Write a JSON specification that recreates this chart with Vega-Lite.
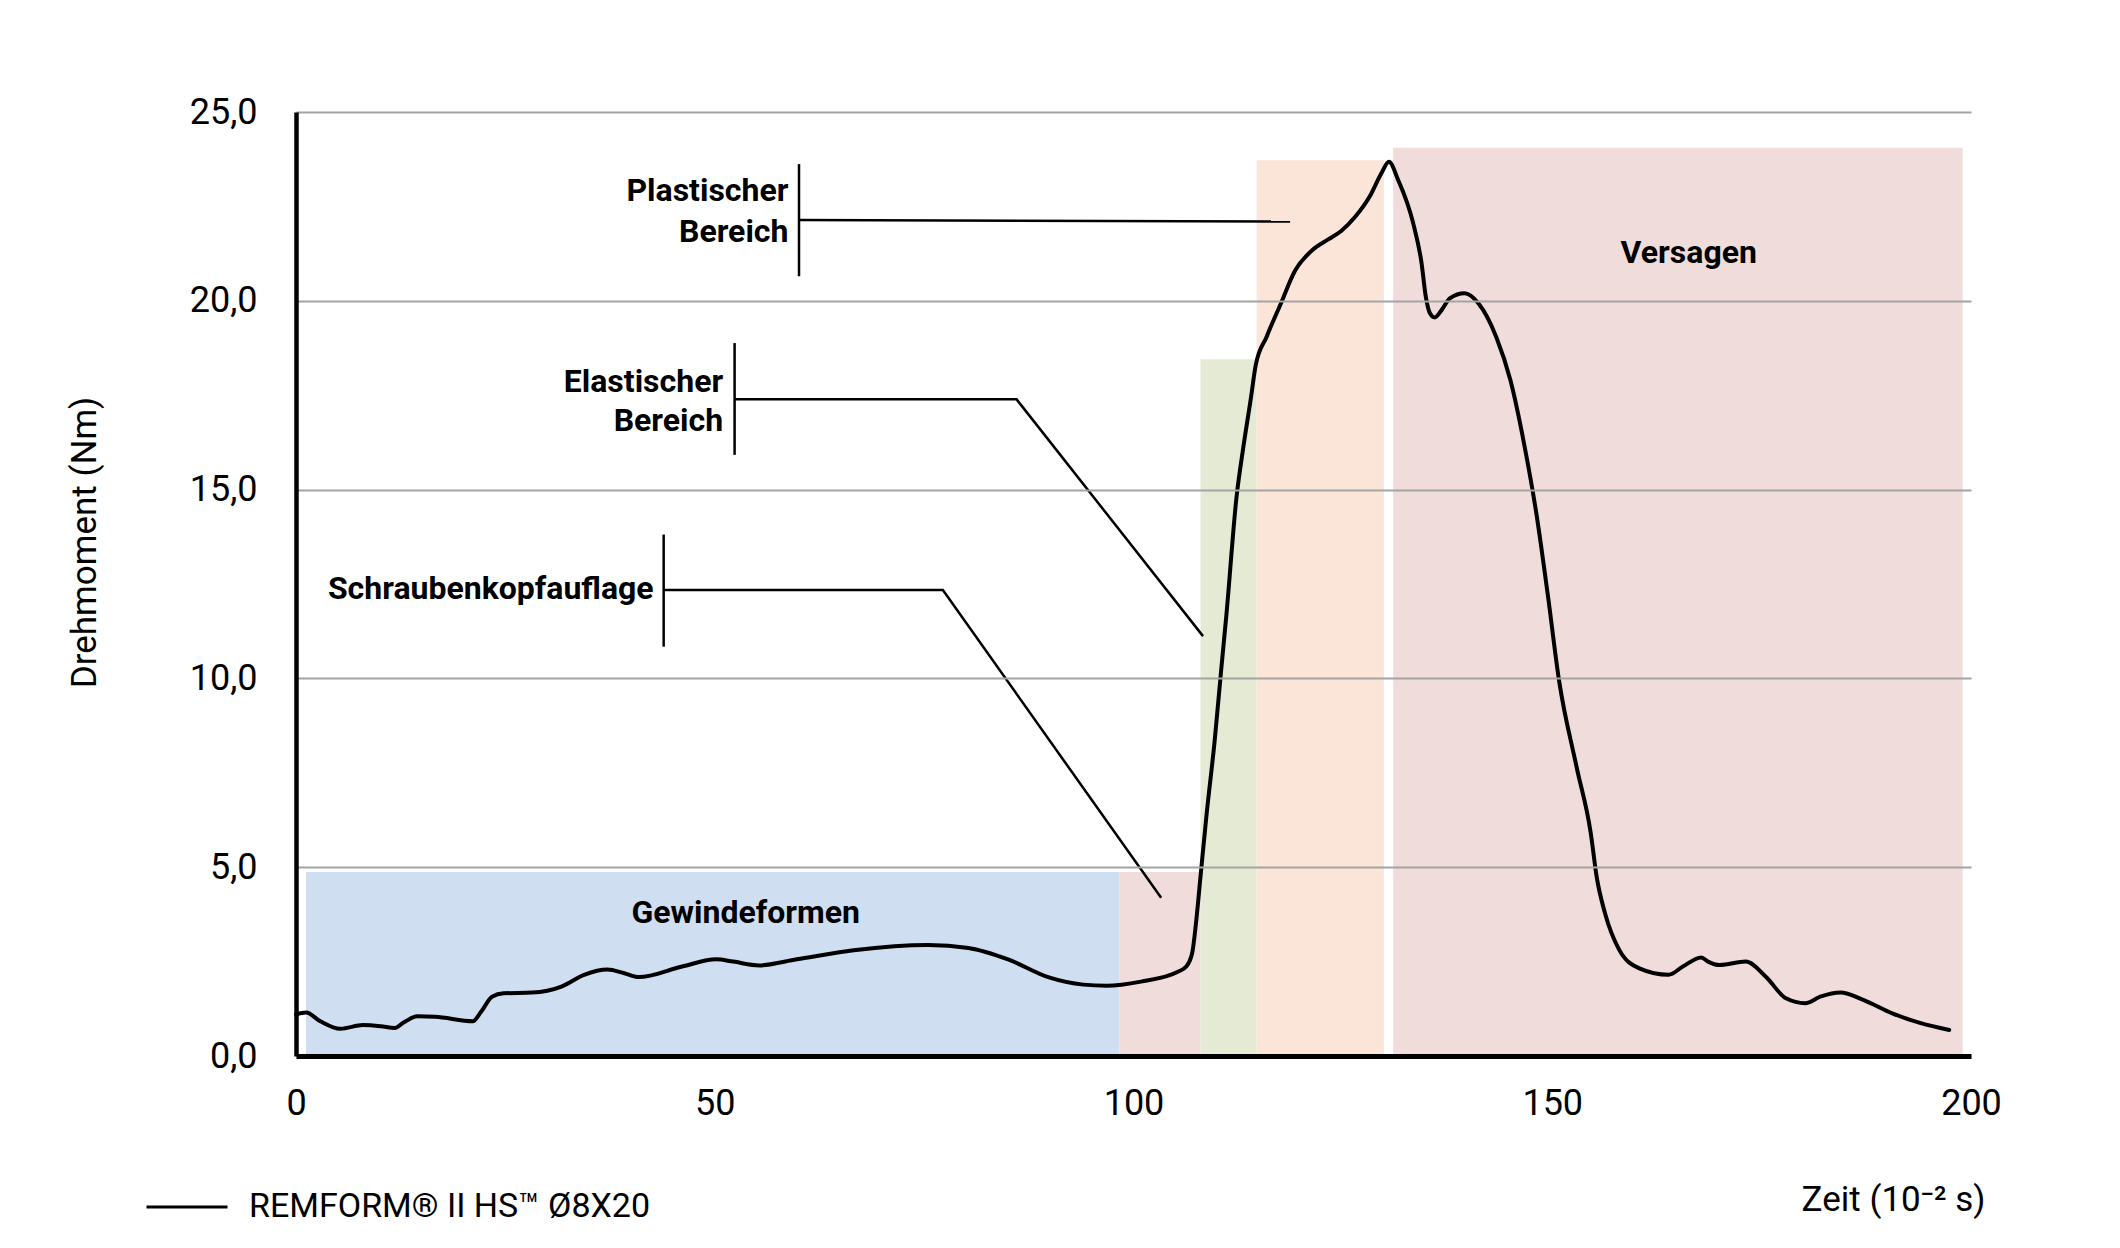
{
  "$schema": "https://vega.github.io/schema/vega-lite/v6.json",
  "width": 1675,
  "height": 944,
  "autosize": {"type": "none"},
  "padding": {"left": 296, "top": 112, "right": 149, "bottom": 192},
  "background": "white",
  "config": {"view": {"stroke": null}, "font": "Roboto"},
  "datasets": {
    "zones": [
      {"zone": "Gewindeformen", "start": 1.2, "end": 98.3, "top": 4.87},
      {"zone": "Schraubenkopfauflage", "start": 98.3, "end": 108.0, "top": 4.87},
      {"zone": "Elastischer Bereich", "start": 108.0, "end": 114.7, "top": 18.45},
      {"zone": "Plastischer Bereich", "start": 114.7, "end": 129.9, "top": 23.72},
      {"zone": "Versagen", "start": 131.0, "end": 199.0, "top": 24.05}
    ],
    "curve": [
      {"t": 0, "torque": 1.10}, {"t": 1.2, "torque": 1.15}, {"t": 2.9, "torque": 0.92}, {"t": 5.3, "torque": 0.72},
      {"t": 8.0, "torque": 0.82}, {"t": 10.1, "torque": 0.79}, {"t": 11.8, "torque": 0.74}, {"t": 12.8, "torque": 0.88},
      {"t": 14.5, "torque": 1.05}, {"t": 16.6, "torque": 1.04}, {"t": 21.1, "torque": 0.92}, {"t": 22.1, "torque": 1.17},
      {"t": 23.4, "torque": 1.57}, {"t": 24.8, "torque": 1.66}, {"t": 28.2, "torque": 1.68}, {"t": 31.7, "torque": 1.84},
      {"t": 34.4, "torque": 2.15}, {"t": 37.2, "torque": 2.29}, {"t": 39.2, "torque": 2.19}, {"t": 40.9, "torque": 2.09},
      {"t": 46.1, "torque": 2.37}, {"t": 50.2, "torque": 2.56}, {"t": 52.2, "torque": 2.50}, {"t": 55.3, "torque": 2.40},
      {"t": 59.8, "torque": 2.56}, {"t": 66.6, "torque": 2.80}, {"t": 75.5, "torque": 2.94}, {"t": 80.3, "torque": 2.86},
      {"t": 85.1, "torque": 2.55}, {"t": 89.9, "torque": 2.08}, {"t": 94.0, "torque": 1.89}, {"t": 96.8, "torque": 1.86},
      {"t": 100.9, "torque": 1.97}, {"t": 105.3, "torque": 2.23}, {"t": 106.3, "torque": 2.37}, {"t": 107.0, "torque": 2.72},
      {"t": 107.5, "torque": 3.6}, {"t": 108.0, "torque": 4.75}, {"t": 108.7, "torque": 6.34}, {"t": 109.7, "torque": 8.37},
      {"t": 110.5, "torque": 10.3}, {"t": 111.1, "torque": 11.7}, {"t": 112.3, "torque": 14.8}, {"t": 113.1, "torque": 16.1},
      {"t": 114.0, "torque": 17.4}, {"t": 114.6, "torque": 18.3}, {"t": 115.9, "torque": 19.05}, {"t": 117.6, "torque": 19.93},
      {"t": 119.3, "torque": 20.8}, {"t": 121.4, "torque": 21.35}, {"t": 123.2, "torque": 21.62}, {"t": 124.8, "torque": 21.85},
      {"t": 126.5, "torque": 22.23}, {"t": 128.2, "torque": 22.76}, {"t": 129.6, "torque": 23.38}, {"t": 130.5, "torque": 23.68},
      {"t": 131.6, "torque": 23.2}, {"t": 133.4, "torque": 22.05}, {"t": 134.4, "torque": 20.99}, {"t": 134.9, "torque": 20.11},
      {"t": 135.4, "torque": 19.67}, {"t": 135.96, "torque": 19.56}, {"t": 136.8, "torque": 19.76}, {"t": 137.8, "torque": 20.07},
      {"t": 139.5, "torque": 20.2}, {"t": 141.2, "torque": 19.93}, {"t": 143.3, "torque": 19.05}, {"t": 145.0, "torque": 17.9},
      {"t": 146.7, "torque": 16.14}, {"t": 148.1, "torque": 14.37}, {"t": 149.5, "torque": 12.16}, {"t": 150.8, "torque": 9.96},
      {"t": 152.9, "torque": 7.66}, {"t": 154.6, "torque": 5.9}, {"t": 155.3, "torque": 4.75}, {"t": 156.3, "torque": 3.78},
      {"t": 158.0, "torque": 2.81}, {"t": 160.4, "torque": 2.32}, {"t": 163.9, "torque": 2.15}, {"t": 165.6, "torque": 2.37},
      {"t": 167.8, "torque": 2.61}, {"t": 168.6, "torque": 2.50}, {"t": 170.0, "torque": 2.41}, {"t": 173.1, "torque": 2.50},
      {"t": 175.5, "torque": 2.10}, {"t": 177.9, "torque": 1.53}, {"t": 180.2, "torque": 1.40}, {"t": 182.0, "torque": 1.57},
      {"t": 184.4, "torque": 1.68}, {"t": 187.2, "torque": 1.48}, {"t": 190.6, "torque": 1.13}, {"t": 194.0, "torque": 0.87},
      {"t": 197.4, "torque": 0.69}
    ],
    "leaders": [
      {"id": "plast", "k": 1, "x": 60.06, "y": 22.14}, {"id": "plast", "k": 2, "x": 118.7, "y": 22.1},
      {"id": "elast", "k": 1, "x": 52.37, "y": 17.39}, {"id": "elast", "k": 2, "x": 86.04, "y": 17.39}, {"id": "elast", "k": 3, "x": 108.3, "y": 11.12},
      {"id": "kopf", "k": 1, "x": 43.9, "y": 12.34}, {"id": "kopf", "k": 2, "x": 77.24, "y": 12.34}, {"id": "kopf", "k": 3, "x": 103.3, "y": 4.19}
    ],
    "bars": [
      {"id": "plast", "x": 60.06, "lo": 20.65, "hi": 23.62},
      {"id": "elast", "x": 52.37, "lo": 15.92, "hi": 18.88},
      {"id": "kopf", "x": 43.9, "lo": 10.84, "hi": 13.81}
    ],
    "rightLabels": [
      {"label": "Plastischer", "x": 58.8, "y": 22.91},
      {"label": "Bereich", "x": 58.8, "y": 21.83},
      {"label": "Elastischer", "x": 51.0, "y": 17.85},
      {"label": "Bereich", "x": 51.0, "y": 16.82},
      {"label": "Schraubenkopfauflage", "x": 42.7, "y": 12.37}
    ],
    "centerLabels": [
      {"label": "Gewindeformen", "x": 53.7, "y": 3.8},
      {"label": "Versagen", "x": 166.3, "y": 21.27}
    ]
  },
  "layer": [
    {
      "data": {"name": "zones"},
      "mark": {"type": "rect"},
      "encoding": {
        "x": {
          "field": "start", "type": "quantitative",
          "scale": {"domain": [0, 200], "nice": false, "zero": false},
          "axis": {
            "values": [0, 50, 100, 150, 200], "grid": false, "ticks": false, "labelFlush": false,
            "domainColor": "black", "domainWidth": 5,
            "labelFontSize": 36, "labelColor": "black", "labelPadding": 30, "labelFont": "Roboto",
            "title": "Zeit (10⁻² s)", "titleFontSize": 35, "titleFontWeight": "normal", "titleColor": "black", "titleFont": "Roboto",
            "titleAnchor": "end", "titleAlign": "right", "titleX": 1689, "titleY": 143, "titleBaseline": "middle",
            "zindex": 1
          }
        },
        "x2": {"field": "end"},
        "y": {
          "field": "top", "type": "quantitative",
          "scale": {"domain": [0, 25], "nice": false},
          "axis": {
            "values": [0, 5, 10, 15, 20, 25], "grid": true, "gridColor": "#a3a3a3", "gridWidth": 2,
            "ticks": false, "domainColor": "black", "domainWidth": 4.5, "labelFlush": false,
            "labelFontSize": 36, "labelColor": "black", "labelPadding": 39, "labelFont": "Roboto",
            "labelExpr": "replace(format(datum.value, '.1f'), '.', ',')",
            "title": "Drehmoment (Nm)", "titleFontSize": 35, "titleFontWeight": "normal", "titleColor": "black", "titleFont": "Roboto",
            "titleX": -194, "titleY": 430, "titleAlign": "center", "titleBaseline": "bottom", "titleAngle": -90,
            "zindex": 1
          }
        },
        "y2": {"datum": 0},
        "fill": {
          "field": "zone", "type": "nominal",
          "scale": {
            "domain": ["Gewindeformen", "Schraubenkopfauflage", "Elastischer Bereich", "Plastischer Bereich", "Versagen"],
            "range": ["#cfdef0", "#f1dcdc", "#e5ead5", "#fbe5d8", "#f1dcdc"]
          },
          "legend": null
        }
      }
    },
    {
      "data": {"name": "leaders"},
      "mark": {"type": "line", "color": "black", "strokeWidth": 2.5},
      "encoding": {
        "x": {"field": "x", "type": "quantitative"},
        "y": {"field": "y", "type": "quantitative"},
        "detail": {"field": "id"},
        "order": {"field": "k"}
      }
    },
    {
      "data": {"name": "bars"},
      "mark": {"type": "rule", "color": "black", "strokeWidth": 2.5},
      "encoding": {
        "x": {"field": "x", "type": "quantitative"},
        "y": {"field": "lo", "type": "quantitative"},
        "y2": {"field": "hi"}
      }
    },
    {
      "data": {"name": "curve"},
      "transform": [{"calculate": "'REMFORM® II HS™ Ø8X20'", "as": "series"}],
      "mark": {"type": "line", "interpolate": "monotone", "strokeWidth": 4, "strokeJoin": "round", "strokeCap": "round"},
      "encoding": {
        "x": {"field": "t", "type": "quantitative"},
        "y": {"field": "torque", "type": "quantitative"},
        "stroke": {
          "field": "series", "type": "nominal",
          "scale": {"range": ["black"]},
          "legend": {
            "orient": "none", "legendX": -151, "legendY": 1053, "title": null, "padding": 0,
            "symbolType": "stroke", "symbolSize": 6561, "symbolStrokeWidth": 3, "symbolStrokeColor": "black",
            "labelFontSize": 34, "labelFont": "Roboto", "labelColor": "black", "labelOffset": 20, "labelLimit": 0
          }
        }
      }
    },
    {
      "data": {"name": "rightLabels"},
      "mark": {"type": "text", "font": "Roboto", "fontWeight": "bold", "fontSize": 32, "align": "right", "baseline": "middle", "color": "black"},
      "encoding": {
        "x": {"field": "x", "type": "quantitative"},
        "y": {"field": "y", "type": "quantitative"},
        "text": {"field": "label"}
      }
    },
    {
      "data": {"name": "centerLabels"},
      "mark": {"type": "text", "font": "Roboto", "fontWeight": "bold", "fontSize": 32, "align": "center", "baseline": "middle", "color": "black"},
      "encoding": {
        "x": {"field": "x", "type": "quantitative"},
        "y": {"field": "y", "type": "quantitative"},
        "text": {"field": "label"}
      }
    }
  ]
}
